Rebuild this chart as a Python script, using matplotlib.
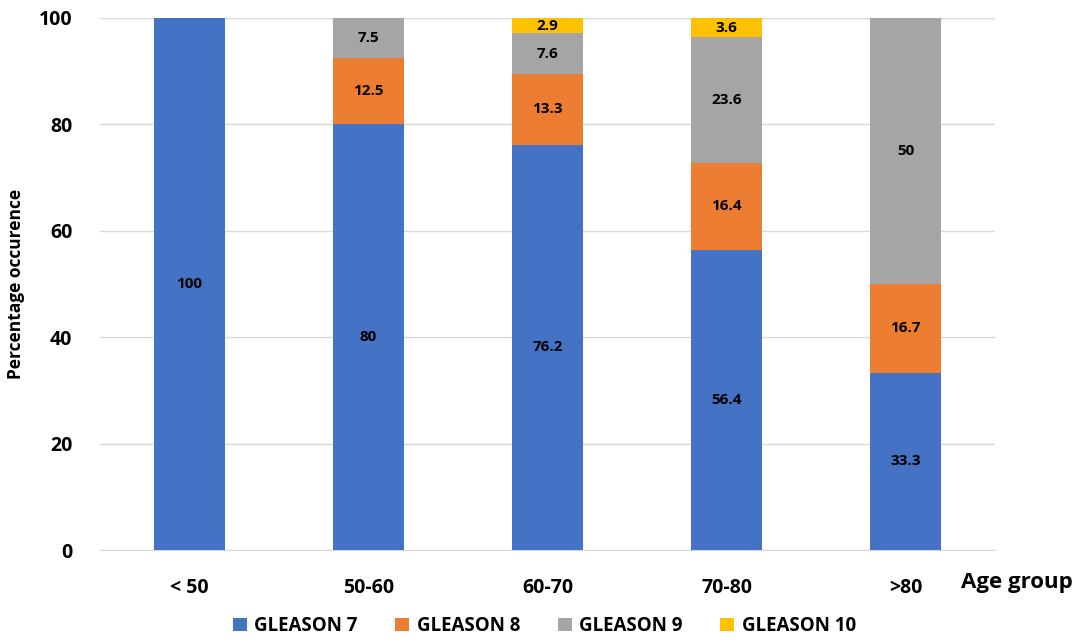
import numpy as np
import matplotlib.pyplot as plt

plt.rcParams["font.family"] = ["Open Sans", "DejaVu Sans"]
plt.rcParams["font.weight"] = "bold"

age_groups = ["< 50", "50-60", "60-70", "70-80", ">80"]
gleason_7 = [100, 80, 76.2, 56.4, 33.3]
gleason_8 = [0, 12.5, 13.3, 16.4, 16.7]
gleason_9 = [0, 7.5, 7.6, 23.6, 50]
gleason_10 = [0, 0, 2.9, 3.6, 0]

series = [
    ("GLEASON 7", gleason_7, "#4472C4"),
    ("GLEASON 8", gleason_8, "#ED7D31"),
    ("GLEASON 9", gleason_9, "#A5A5A5"),
    ("GLEASON 10", gleason_10, "#FFC000"),
]

fig = plt.figure(figsize=(10.78, 6.42), dpi=100)
ax = fig.add_axes([0.0928, 0.1433, 0.8302, 0.8287])

x = np.arange(len(age_groups))
bottom = np.zeros(len(age_groups))
for name, vals, color in series:
    vals = np.array(vals, dtype=float)
    ax.bar(x, vals, 0.4, bottom=bottom, color=color, label=name, zorder=3)
    for xi, b, v in zip(x, bottom, vals):
        if v > 0:
            ax.text(xi, b + v / 2, f"{v:g}", ha="center", va="center",
                    fontsize=11, fontweight="bold", color="black", zorder=4)
    bottom += vals

ax.set_xlim(-0.5, len(age_groups) - 0.5)
ax.set_ylim(0, 100)
ax.set_yticks(range(0, 101, 20))
ax.set_xticks(x)
ax.set_xticklabels(age_groups)
ax.tick_params(axis="both", length=0, labelsize=14)
ax.tick_params(axis="x", pad=20)
ax.tick_params(axis="y", pad=20)
ax.grid(axis="y", color="#D9D9D9", linewidth=1, zorder=0)
for side in ["top", "right", "left"]:
    ax.spines[side].set_visible(False)
ax.spines["bottom"].set_color("#D9D9D9")

ax.set_ylabel("Percentage occurence", fontsize=12.5, fontweight="bold", labelpad=10)
fig.text(0.943, 0.092, "Age group", fontsize=16, fontweight="bold",
         ha="center", va="center")

fig.legend(loc="lower center", bbox_to_anchor=(0.505, -0.017), ncol=4,
           frameon=False, fontsize=13.5, handlelength=0.75, handleheight=0.75,
           handletextpad=0.4, columnspacing=2.0)

fig.savefig("out.png", dpi=100)
